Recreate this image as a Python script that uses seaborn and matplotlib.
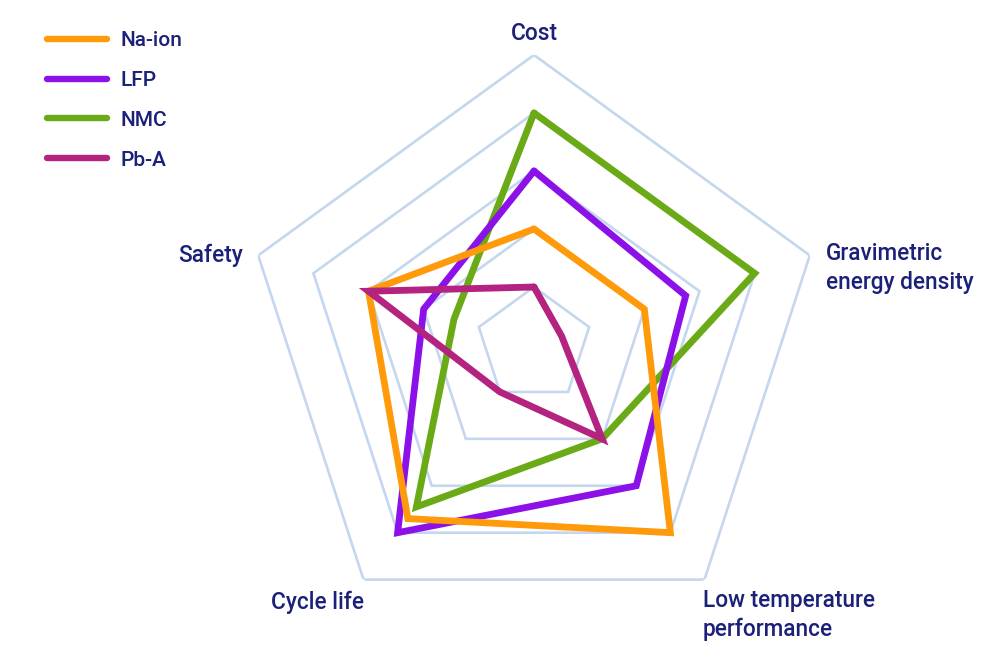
import matplotlib.pyplot as plt
from matplotlib.lines import Line2D
import seaborn as sns
import pandas as pd
import numpy as np

sns.set_theme(style="white")
plt.rcParams['font.family'] = ['Roboto', 'DejaVu Sans']

# Data (0-5 scale)
categories = ["Cost", "Gravimetric\nenergy density", "Low temperature\nperformance",
              "Cycle life", "Safety"]
batteries = ["Na-ion", "LFP", "NMC", "Pb-A"]
na_ion = [2, 2, 4, 3.7, 3]
lfp = [3, 2.75, 3, 4, 2]
nmc = [4, 4, 2, 3.45, 1.45]
pb_a = [1, 0.5, 2, 1, 3]
colors = ["#ff9a0a", "#8c10e8", "#6aaa16", "#b3237f"]
levels = [1, 2, 3, 4, 5]

text_color = "#1b2079"
grid_color = "#c4d7ee"

n = len(categories)
angles = np.linspace(0, 2 * np.pi, n, endpoint=False)

rows = []
for name, vals in zip(batteries, [na_ion, lfp, nmc, pb_a]):
    for i, (a, v) in enumerate(zip(list(angles) + [2 * np.pi], vals + vals[:1])):
        rows.append({"battery": name, "order": i, "angle": a, "value": v})
df = pd.DataFrame(rows)

fig = plt.figure(figsize=(10, 6.57), dpi=100)
fig.patch.set_facecolor("white")
cx, cy, R = 534, 345, 290
ax = fig.add_axes([(cx - R) / 1000, 1 - (cy + R) / 657, 2 * R / 1000, 2 * R / 657],
                  projection="polar")
ax.set_theta_offset(np.pi / 2)
ax.set_theta_direction(-1)
ax.set_ylim(0, 5)
ax.grid(False)
ax.spines["polar"].set_visible(False)
ax.set_xticks([])
ax.set_yticks([])
ax.set_facecolor("none")

# pentagon grid
ring_angles = list(angles) + [2 * np.pi]
for lv in levels:
    ax.plot(ring_angles, [lv] * (n + 1), color=grid_color, lw=1.9, zorder=1)

# series, drawn in reference stacking order
draw_order = ["NMC", "LFP", "Na-ion", "Pb-A"]
palette = dict(zip(batteries, colors))
for z, name in enumerate(draw_order):
    sub = df[df["battery"] == name]
    sns.lineplot(data=sub, x="angle", y="value", sort=False, estimator=None,
                 color=palette[name], lw=4.9, ax=ax, legend=False, zorder=3 + z)
for line in ax.lines:
    line.set_solid_joinstyle("miter")
ax.set_xlabel("")
ax.set_ylabel("")

# axis labels
fs = 16.3
kw = dict(fontsize=fs, color=text_color, fontweight="medium")
fig.text(534 / 1000, 1 - 33 / 657, categories[0], ha="center", va="center", **kw)
fig.text(826 / 1000, 1 - 268 / 657, categories[1], ha="left", va="center",
         linespacing=1.3, **kw)
fig.text(703 / 1000, 1 - 615 / 657, categories[2], ha="left", va="center",
         linespacing=1.3, **kw)
fig.text(364 / 1000, 1 - 602 / 657, categories[3], ha="right", va="center", **kw)
fig.text(243 / 1000, 1 - 255 / 657, categories[4], ha="right", va="center", **kw)

# legend
handles = [Line2D([0], [0], color=c, lw=4.6, solid_capstyle="round") for c in colors]
leg = fig.legend(handles, batteries, loc="upper left",
                 bbox_to_anchor=(47 / 1000, 1 - 31 / 657), frameon=False,
                 prop={"size": 15, "weight": "medium"}, handlelength=2.9,
                 handletextpad=0.65, labelspacing=1.0, borderpad=0, borderaxespad=0)
for t in leg.get_texts():
    t.set_color(text_color)

fig.savefig("out.png", dpi=100, facecolor="white")
